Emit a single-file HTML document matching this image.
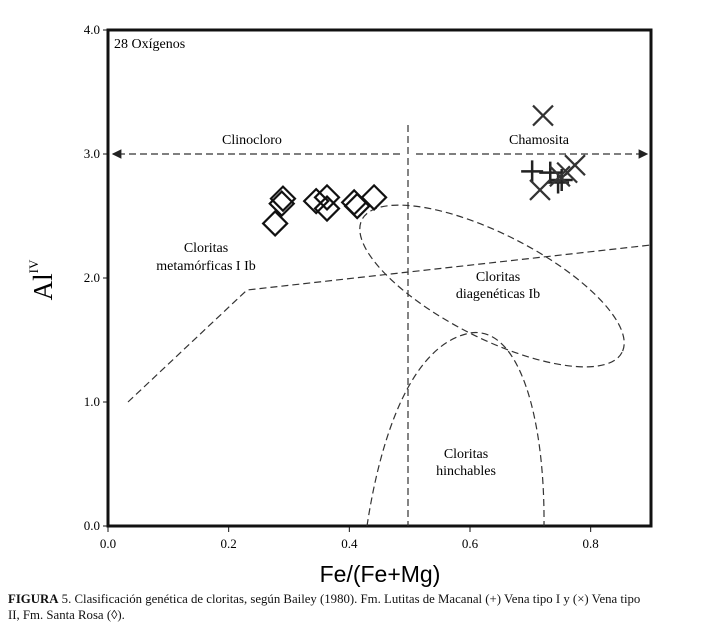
<!DOCTYPE html>
<html><head><meta charset="utf-8"><style>
body{margin:0;background:#fff;width:703px;height:634px;overflow:hidden;font-family:"Liberation Serif",serif}
svg{position:absolute;left:0;top:0}
.cap{position:absolute;left:8px;top:591px;width:688px;font-size:12.8px;line-height:16px;color:#111}
</style></head><body>
<svg width="703" height="634">
<defs><marker id="ar" markerWidth="8" markerHeight="8" refX="7" refY="4" orient="auto"><path d="M0,0L8,4L0,8z" fill="#222"/></marker></defs>
<g id="axes"></g>
<g id="regions" fill="none" stroke="#333" stroke-width="1.2" stroke-dasharray="7,4"></g>
<g id="marks"></g>
</svg>
<div class="cap"><b>FIGURA</b> 5. Clasificación genética de cloritas, según Bailey (1980). Fm. Lutitas de Macanal (+) Vena tipo I y (×) Vena tipo<br>II, Fm. Santa Rosa (◊).</div>
<script>
const xTicks=[0,0.2,0.4,0.6,0.8];
const xTickLabels=["0.0","0.2","0.4","0.6","0.8"];
const yTicks=[0,1,2,3,4];
const yTickLabels=["0.0","1.0","2.0","3.0","4.0"];
const santaRosaX=[0.277,0.288,0.290,0.345,0.363,0.363,0.408,0.413,0.441];
const santaRosaY=[2.44,2.60,2.64,2.62,2.65,2.56,2.61,2.58,2.65];
const venaIX=[0.703,0.733,0.746,0.752];
const venaIY=[2.86,2.85,2.77,2.79];
const venaIIX=[0.721,0.716,0.749,0.761,0.774];
const venaIIY=[3.31,2.71,2.82,2.85,2.91];
const X0=108,X1=651,Y0=526,Y1=30;
const sx=v=>X0+v*(X1-X0)/0.9;
const sy=v=>Y0-v*(Y0-Y1)/4;
const NS="http://www.w3.org/2000/svg";
function mk(parent,tag,attrs){const e=document.createElementNS(NS,tag);for(const k in attrs)e.setAttribute(k,attrs[k]);document.getElementById(parent).appendChild(e);return e;}
let e=mk('axes','rect',{x:X0,y:Y1,width:X1-X0,height:Y0-Y1,fill:'none',stroke:'#111','stroke-width':3});


xTicks.forEach((t,i)=>{
 let l=mk('axes','line',{x1:sx(t),x2:sx(t),y1:Y0,y2:Y0+6,stroke:'#111'});
 
 
 let tx=mk('axes','text',{x:sx(t),y:Y0+22,'text-anchor':'middle','font-size':13});
 tx.textContent=xTickLabels[i];
 
 
});
yTicks.forEach((t,i)=>{
 let l=mk('axes','line',{x1:X0-5,x2:X0,y1:sy(t),y2:sy(t),stroke:'#111'});
 
 
 let tx=mk('axes','text',{x:X0-8,y:sy(t)+4,'text-anchor':'end','font-size':13});
 tx.textContent=yTickLabels[i];
 
 
});
let xt=mk('axes','text',{x:380,y:582,'text-anchor':'middle','font-size':23,'font-family':'Liberation Sans, sans-serif'});
xt.textContent='Fe/(Fe+Mg)';


let yt=mk('axes','text',{transform:'translate(52,280) rotate(-90)','text-anchor':'middle','font-size':27});
yt.innerHTML='Al<tspan font-size="13" dy="-14">IV</tspan>';


const labels=[["28 Oxígenos",114,48,"start"],["Clinocloro",252,144,"middle"],["Chamosita",539,144,"middle"],["Cloritas",206,252,"middle"],["metamórficas I Ib",206,270,"middle"],["Cloritas",498,281,"middle"],["diagenéticas Ib",498,298,"middle"],["Cloritas",466,458,"middle"],["hinchables",466,475,"middle"]];
labels.forEach(a=>{let t=mk('axes','text',{x:a[1],y:a[2],'text-anchor':a[3],'font-size':14});t.textContent=a[0];

});
const reg=[
 ['path',{d:`M128,402 L247,290 L651,245`},'metamorphic-boundary'],
 ['line',{x1:408,y1:125,x2:408,y2:526},'fe-05-divider'],
 ['line',{x1:400,y1:154,x2:113,y2:154,'marker-end':'url(#ar)'},'clinocloro-arrow'],
 ['line',{x1:416,y1:154,x2:647,y2:154,'marker-end':'url(#ar)'},'chamosita-arrow'],
 ['ellipse',{cx:492,cy:286,rx:146,ry:52,transform:'rotate(27 492 286)'},'diagenetic-ellipse'],
 ['path',{d:'M367,526 C380,440 410,345 470,333 C520,325 545,420 544,526'},'swelling-region']];
reg.forEach(r=>{let el=mk('regions',r[0],r[1]);
 
 });
santaRosaX.forEach((v,i)=>{const x=sx(v),y=sy(santaRosaY[i]),s=12;
 let p=mk('marks','path',{d:`M${x},${y-s}L${x+s},${y}L${x},${y+s}L${x-s},${y}Z`,fill:'none',stroke:'#111','stroke-width':2.2});
 
 });
venaIX.forEach((v,i)=>{const x=sx(v),y=sy(venaIY[i]),s=11;
 let p=mk('marks','path',{d:`M${x-s},${y}H${x+s}M${x},${y-s}V${y+s}`,stroke:'#222','stroke-width':2.5});
 
 });
venaIIX.forEach((v,i)=>{const x=sx(v),y=sy(venaIIY[i]),s=10;
 let p=mk('marks','path',{d:`M${x-s},${y-s}L${x+s},${y+s}M${x+s},${y-s}L${x-s},${y+s}`,stroke:'#333','stroke-width':2.2});
 
 });
</script>
</body></html>
